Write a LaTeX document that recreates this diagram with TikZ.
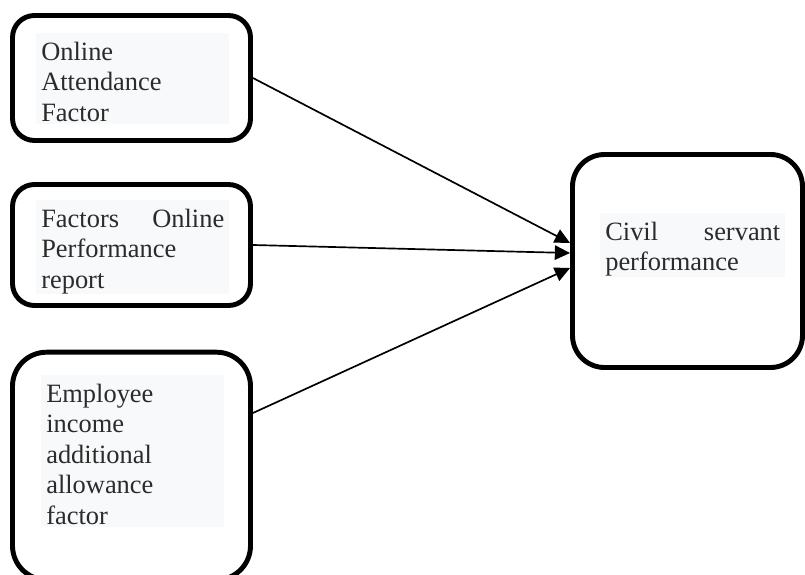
\documentclass[tikz,border=0pt]{standalone}
\usepackage{fontspec}
\setmainfont{Liberation Serif}
\usepackage{tikz}
\usetikzlibrary{arrows.meta,positioning}
\definecolor{shade}{HTML}{F8F9FA}
\definecolor{ink}{HTML}{2B2B2B}
\newcommand\lnstrut{\rule[-0.1\baselineskip]{0pt}{\baselineskip}}

\begin{document}
\begin{tikzpicture}[
    box/.style={draw,line width=3.5pt,rounded corners=#1,inner sep=0pt},
    txt/.style={fill=shade,text=ink,anchor=north west,align=left,
                inner xsep=0.125cm,inner ysep=0pt,
                font=\fontsize{18.8}{21.6}\selectfont},
    arr/.style={-{Triangle[length=3.8mm,width=3.6mm]},line width=1.2pt},
]
\clip (0,0) rectangle (20.125,-14.35);

% Factor boxes
\node[box=0.55cm,minimum width=5.95cm,minimum height=3.125cm] (b1) at (3.2875,-1.95) {};
\node[box=0.55cm,minimum width=5.95cm,minimum height=3.025cm] (b2) at (3.2875,-6.125) {};
\node[box=0.85cm,minimum width=5.95cm,minimum height=5.69cm]  (b3) at (3.2875,-11.65) {};

% Texts
\node[txt,text width=4.575cm] (t1) at (0.9,-0.825)
  {\lnstrut Online\\Attendance\\Factor\lnstrut};
\node[txt,text width=4.575cm] (t2) at (0.9,-5.0)
  {\lnstrut Factors\hfill Online\\Performance\\report\lnstrut};
\node[txt,text width=4.325cm] (t3) at (1.025,-9.375)
  {\lnstrut Employee\\income\\additional\\allowance\\factor\lnstrut};

% Performance box
\node[box=0.8cm,minimum width=5.75cm,minimum height=5.325cm] (b4) at (17.1875,-6.525) {};
\node[txt,text width=4.375cm] (t4) at (15.0,-5.325)
  {\lnstrut Civil\hfill servant\\performance\lnstrut};

% Arrows
\draw[arr] (b1.east) -- ([yshift=0.45cm]b4.west);
\draw[arr] (b2.east) -- ([yshift=0.2cm]b4.west);
\draw[arr] ([yshift=1.325cm]b3.east) -- ([yshift=-0.175cm]b4.west);

\end{tikzpicture}
\end{document}
